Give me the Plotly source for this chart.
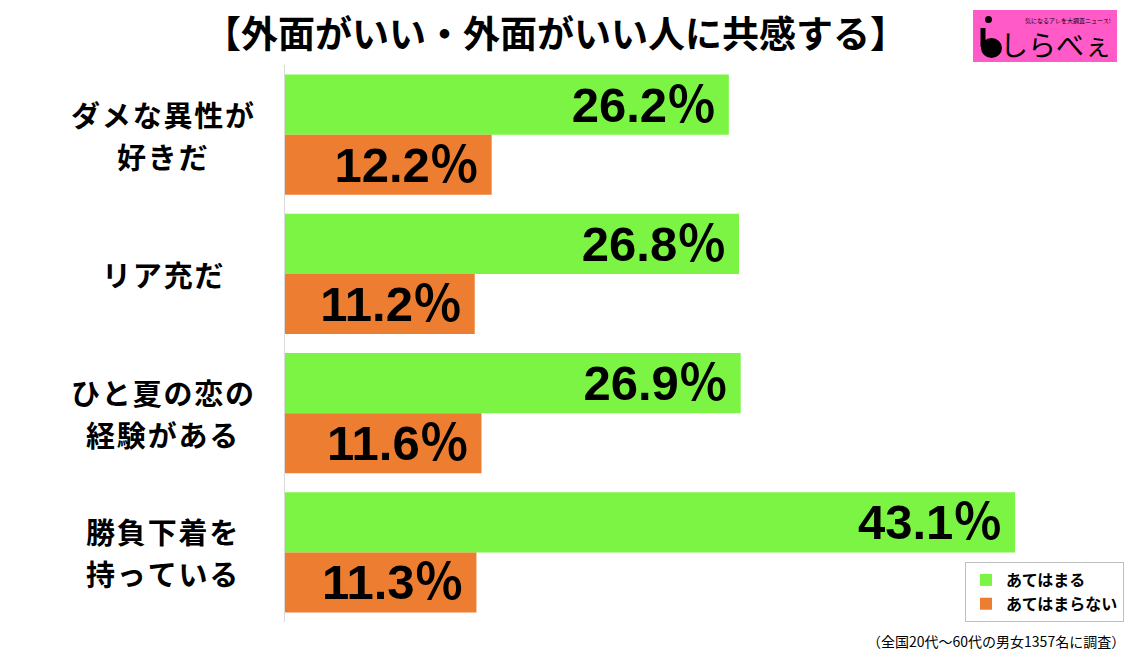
import plotly.graph_objects as go

# data
categories = ["ダメな異性が好きだ", "リア充だ", "ひと夏の恋の経験がある", "勝負下着を持っている"]
label_lines = [["ダメな異性が", "好きだ"], ["リア充だ"], ["ひと夏の恋の", "経験がある"], ["勝負下着を", "持っている"]]
agree = [26.2, 26.8, 26.9, 43.1]
disagree = [12.2, 11.2, 11.6, 11.3]
series_names = ["あてはまる", "あてはまらない"]

title = "【外面がいい・外面がいい人に共感する】"
footnote = "（全国20代～60代の男女1357名に調査）"

GREEN = "#7cf443"
ORANGE = "#ed7d31"
JP = "Noto Sans CJK JP"
W, H = 1135, 659
LINE_GAP = 42  # px between the two lines of a category label


def spaced(s):
    # a little tracking between characters like the original labels
    return "\u200a".join(s)


fig = go.Figure()
for vals, name, color in [(agree, series_names[0], GREEN), (disagree, series_names[1], ORANGE)]:
    fig.add_trace(go.Bar(
        y=categories, x=vals, name=name, orientation="h",
        marker=dict(color=color, line=dict(width=0)),
        text=[f"{v:.1f}％\u2009" for v in vals],
        textposition="inside", insidetextanchor="end", constraintext="none",
        textfont=dict(family="Liberation Sans, " + JP, size=49, color="black", weight="bold"),
        hoverinfo="skip",
    ))

# category labels, centred text left of the axis (one annotation per line for wider leading)
for cat, lines in zip(categories, label_lines):
    n = len(lines)
    for i, line in enumerate(lines):
        fig.add_annotation(
            x=162 / W, xref="paper", y=cat, yref="y",
            yshift=((n - 1) / 2 - i) * LINE_GAP,
            text=spaced(line),
            showarrow=False, xanchor="center", yanchor="middle",
            font=dict(family=JP, size=29, color="black", weight="bold"),
        )

# title
fig.add_annotation(
    x=555 / W, y=1 - 32 / H, xref="paper", yref="paper", text=title,
    showarrow=False, xanchor="center", yanchor="middle",
    font=dict(family=JP, size=37, color="black", weight="bold"),
)

# footnote
fig.add_annotation(
    x=1127 / W, y=1 - 641 / H, xref="paper", yref="paper", text=footnote,
    showarrow=False, xanchor="right", yanchor="middle",
    font=dict(family=JP, size=14, color="black"),
)

# logo (pink badge)
fig.add_shape(type="rect", xref="paper", yref="paper",
              x0=973 / W, x1=1117 / W, y0=1 - 62 / H, y1=1 - 10 / H,
              fillcolor="#ff5ac8", line=dict(width=0), layer="above")
# the "i" mark: dot, stem and round foot
fig.add_shape(type="circle", xref="paper", yref="paper",
              x0=985 / W, x1=992 / W, y0=1 - 23 / H, y1=1 - 16 / H,
              fillcolor="black", line=dict(width=0))
fig.add_shape(type="line", xref="paper", yref="paper",
              x0=983 / W, x1=983 / W, y0=1 - 28 / H, y1=1 - 47 / H,
              line=dict(color="black", width=5))
fig.add_shape(type="circle", xref="paper", yref="paper",
              x0=981 / W, x1=1002 / W, y0=1 - 58 / H, y1=1 - 38 / H,
              fillcolor="black", line=dict(width=0))
fig.add_annotation(x=1056 / W, y=1 - 44 / H, xref="paper", yref="paper",
                   text="しらべぇ", showarrow=False, xanchor="center", yanchor="middle",
                   font=dict(family=JP, size=28, color="black"))
fig.add_annotation(x=1068 / W, y=1 - 21 / H, xref="paper", yref="paper",
                   text="気になるアレを大調査ニュース!", showarrow=False,
                   xanchor="center", yanchor="middle",
                   font=dict(family=JP, size=6, color="black"))

fig.update_layout(
    width=W, height=H,
    margin=dict(l=0, r=0, t=0, b=0),
    paper_bgcolor="white", plot_bgcolor="white",
    barmode="group", bargap=0.138, bargroupgap=0,
    showlegend=True,
    legend=dict(
        x=965 / W, y=1 - 562 / H, xanchor="left", yanchor="top",
        bordercolor="#bfbfbf", borderwidth=1, bgcolor="white",
        font=dict(family=JP, size=16, color="black", weight="bold"),
        tracegroupgap=2,
    ),
    xaxis=dict(domain=[285 / W, 1132 / W], range=[0, 50], visible=False, fixedrange=True),
    yaxis=dict(domain=[1 - 622 / H, 1 - 65 / H], autorange="reversed",
               showticklabels=False, showgrid=False, zeroline=False, ticks="",
               showline=True, linecolor="#d9d9d9", linewidth=1, fixedrange=True),
)

fig.write_html("out.html", config={"displayModeBar": False},
               post_script="document.body.style.margin='0';")
